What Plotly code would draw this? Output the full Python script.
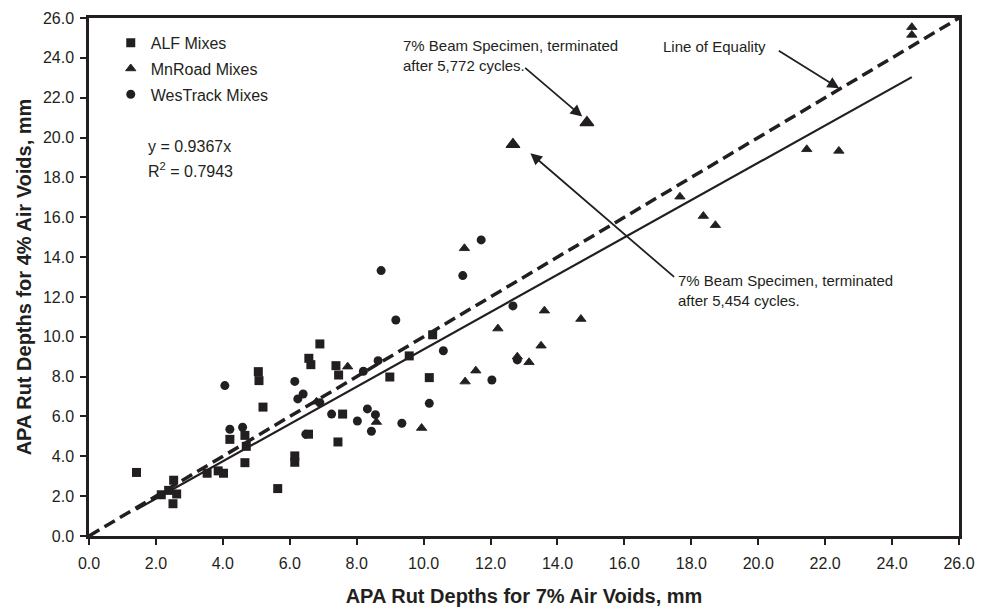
import plotly.graph_objects as go

# APA rut depths (mm): 7% air voids (x) vs 4% air voids (y)
alf_x = [1.42, 2.16, 2.38, 2.53, 2.51, 2.62, 3.53, 3.86, 4.02, 4.21, 4.66, 4.70, 4.66,
         5.06, 5.08, 5.20, 5.64, 6.15, 6.15, 6.56, 6.57, 6.63, 6.90, 7.38, 7.46, 7.44,
         7.58, 8.99, 9.57, 10.17, 10.27]
alf_y = [3.19, 2.07, 2.29, 2.80, 1.62, 2.11, 3.15, 3.27, 3.15, 4.85, 5.05, 4.50, 3.68,
         8.25, 7.80, 6.47, 2.38, 4.02, 3.70, 5.11, 8.92, 8.60, 9.64, 8.55, 8.08, 4.72,
         6.12, 7.98, 9.04, 7.95, 10.10]

mnroad_x = [6.80, 7.73, 8.59, 9.94, 11.22, 11.24, 11.56, 12.22, 12.80, 13.15, 13.51,
            13.61, 14.70, 17.66, 18.36, 18.72, 21.45, 22.41, 24.59, 24.59]
mnroad_y = [6.74, 8.50, 5.72, 5.42, 14.44, 7.75, 8.30, 10.41, 9.00, 8.72, 9.55,
            11.31, 10.89, 17.03, 16.06, 15.60, 19.41, 19.33, 25.54, 25.15]

# MnRoad beam specimens whose 7% tests were terminated early
beam_x = [12.67, 14.88]
beam_y = [19.65, 20.75]

westrack_x = [4.06, 4.21, 4.59, 6.15, 6.40, 6.24, 6.90, 6.48, 7.25, 8.02, 8.20, 8.32,
              8.44, 8.56, 8.64, 8.73, 9.17, 9.35, 10.17, 10.59, 11.17, 11.72, 12.04,
              12.67, 12.80]
westrack_y = [7.55, 5.36, 5.46, 7.76, 7.13, 6.88, 6.69, 5.11, 6.12, 5.77, 8.27, 6.38,
              5.26, 6.09, 8.80, 13.32, 10.84, 5.66, 6.66, 9.30, 13.07, 14.86, 7.83,
              11.55, 8.84]

slope = 0.9367
r_squared = 0.7943
axis_max = 26.0
tick_step = 2.0

ink = "#231f20"
font_family = "Liberation Sans, Arial, sans-serif"

all_x = alf_x + mnroad_x + beam_x + westrack_x
fit_x = [min(all_x), max(all_x)]
fit_y = [slope * v for v in fit_x]

fig = go.Figure()

fig.add_trace(go.Scatter(
    x=[0, axis_max], y=[0, axis_max], mode="lines",
    line=dict(color=ink, width=3.5, dash="12px,6px"),
    showlegend=False, hoverinfo="skip"))
fig.add_trace(go.Scatter(
    x=fit_x, y=fit_y, mode="lines",
    line=dict(color=ink, width=2.2),
    showlegend=False, hoverinfo="skip"))

fig.add_trace(go.Scatter(
    x=alf_x, y=alf_y, mode="markers", name="ALF Mixes", legendgroup="a",
    marker=dict(symbol="square", size=9, color=ink)))
fig.add_trace(go.Scatter(
    x=mnroad_x, y=mnroad_y, mode="markers", name="MnRoad Mixes", legendgroup="b",
    marker=dict(symbol="triangle-up", size=9, color=ink,
                line=dict(color=ink, width=0.9))))
fig.add_trace(go.Scatter(
    x=westrack_x, y=westrack_y, mode="markers", name="WesTrack Mixes", legendgroup="c",
    marker=dict(symbol="circle", size=9, color=ink)))
fig.add_trace(go.Scatter(
    x=beam_x, y=beam_y, mode="markers", showlegend=False,
    marker=dict(symbol="triangle-up", size=12, color=ink,
                line=dict(color=ink, width=1.2))))

axis_common = dict(
    range=[0, axis_max], dtick=tick_step, tick0=0, tickformat=".1f",
    showgrid=False, zeroline=False, automargin=False,
    showline=True, linecolor=ink, linewidth=2.5, mirror=True,
    ticks="outside", ticklen=6, tickwidth=1.5, tickcolor=ink,
    tickfont=dict(family=font_family, size=16, color=ink),
    title_font=dict(family=font_family, size=20, color=ink),
)

fig.update_xaxes(**axis_common,
                 title_text="<b>APA Rut Depths for 7% Air Voids, mm</b>",
                 ticklabelstandoff=5, title_standoff=19)
fig.update_yaxes(**axis_common,
                 title_text="<b>APA Rut Depths for 4% Air Voids, mm</b>",
                 ticklabelstandoff=3, title_standoff=6)

annotations = [
    dict(xref="paper", yref="paper", x=0.065, y=0.7515, xanchor="left", yanchor="middle",
         text=f"y = {slope:.4f}x", showarrow=False,
         font=dict(family=font_family, size=16, color=ink)),
    dict(xref="paper", yref="paper", x=0.065, y=0.7066, xanchor="left", yanchor="middle",
         text=f"R<sup>2</sup> = {r_squared:.4f}", showarrow=False,
         font=dict(family=font_family, size=16, color=ink)),
    dict(xref="paper", yref="paper", x=0.3589, y=0.9276, xanchor="left", yanchor="middle",
         align="left", text="7% Beam Specimen, terminated<br>after 5,772 cycles.",
         showarrow=False, font=dict(family=font_family, size=15, color=ink)),
    dict(xref="paper", yref="paper", x=0.658, y=0.9446, xanchor="left", yanchor="middle",
         text="Line of Equality", showarrow=False,
         font=dict(family=font_family, size=15, color=ink)),
    dict(xref="paper", yref="paper", x=0.675, y=0.474, xanchor="left", yanchor="middle",
         align="left", text="7% Beam Specimen, terminated<br>after 5,454 cycles.",
         showarrow=False, font=dict(family=font_family, size=15, color=ink)),
]

# leader arrows (tail -> head, in data units)
arrows = [
    ((12.99, 23.56), (14.74, 21.05)),
    ((20.57, 24.40), (22.42, 22.47)),
    ((17.53, 12.94), (13.19, 19.21)),
]
for (tx, ty), (hx, hy) in arrows:
    annotations.append(dict(
        x=hx, y=hy, ax=tx, ay=ty, xref="x", yref="y", axref="x", ayref="y",
        text="", showarrow=True, arrowhead=2, arrowsize=1.3, arrowwidth=1.8,
        arrowcolor=ink))

fig.update_layout(
    width=981, height=607,
    margin=dict(l=89, r=22, t=18, b=71, autoexpand=False),
    paper_bgcolor="white", plot_bgcolor="white",
    font=dict(family=font_family, color=ink),
    annotations=annotations,
    legend=dict(
        x=0.025, y=0.985, xanchor="left", yanchor="top",
        bgcolor="rgba(0,0,0,0)", borderwidth=0,
        font=dict(family=font_family, size=16, color=ink),
        itemwidth=30, tracegroupgap=2, traceorder="grouped"),
)

fig.write_html("out.html")
